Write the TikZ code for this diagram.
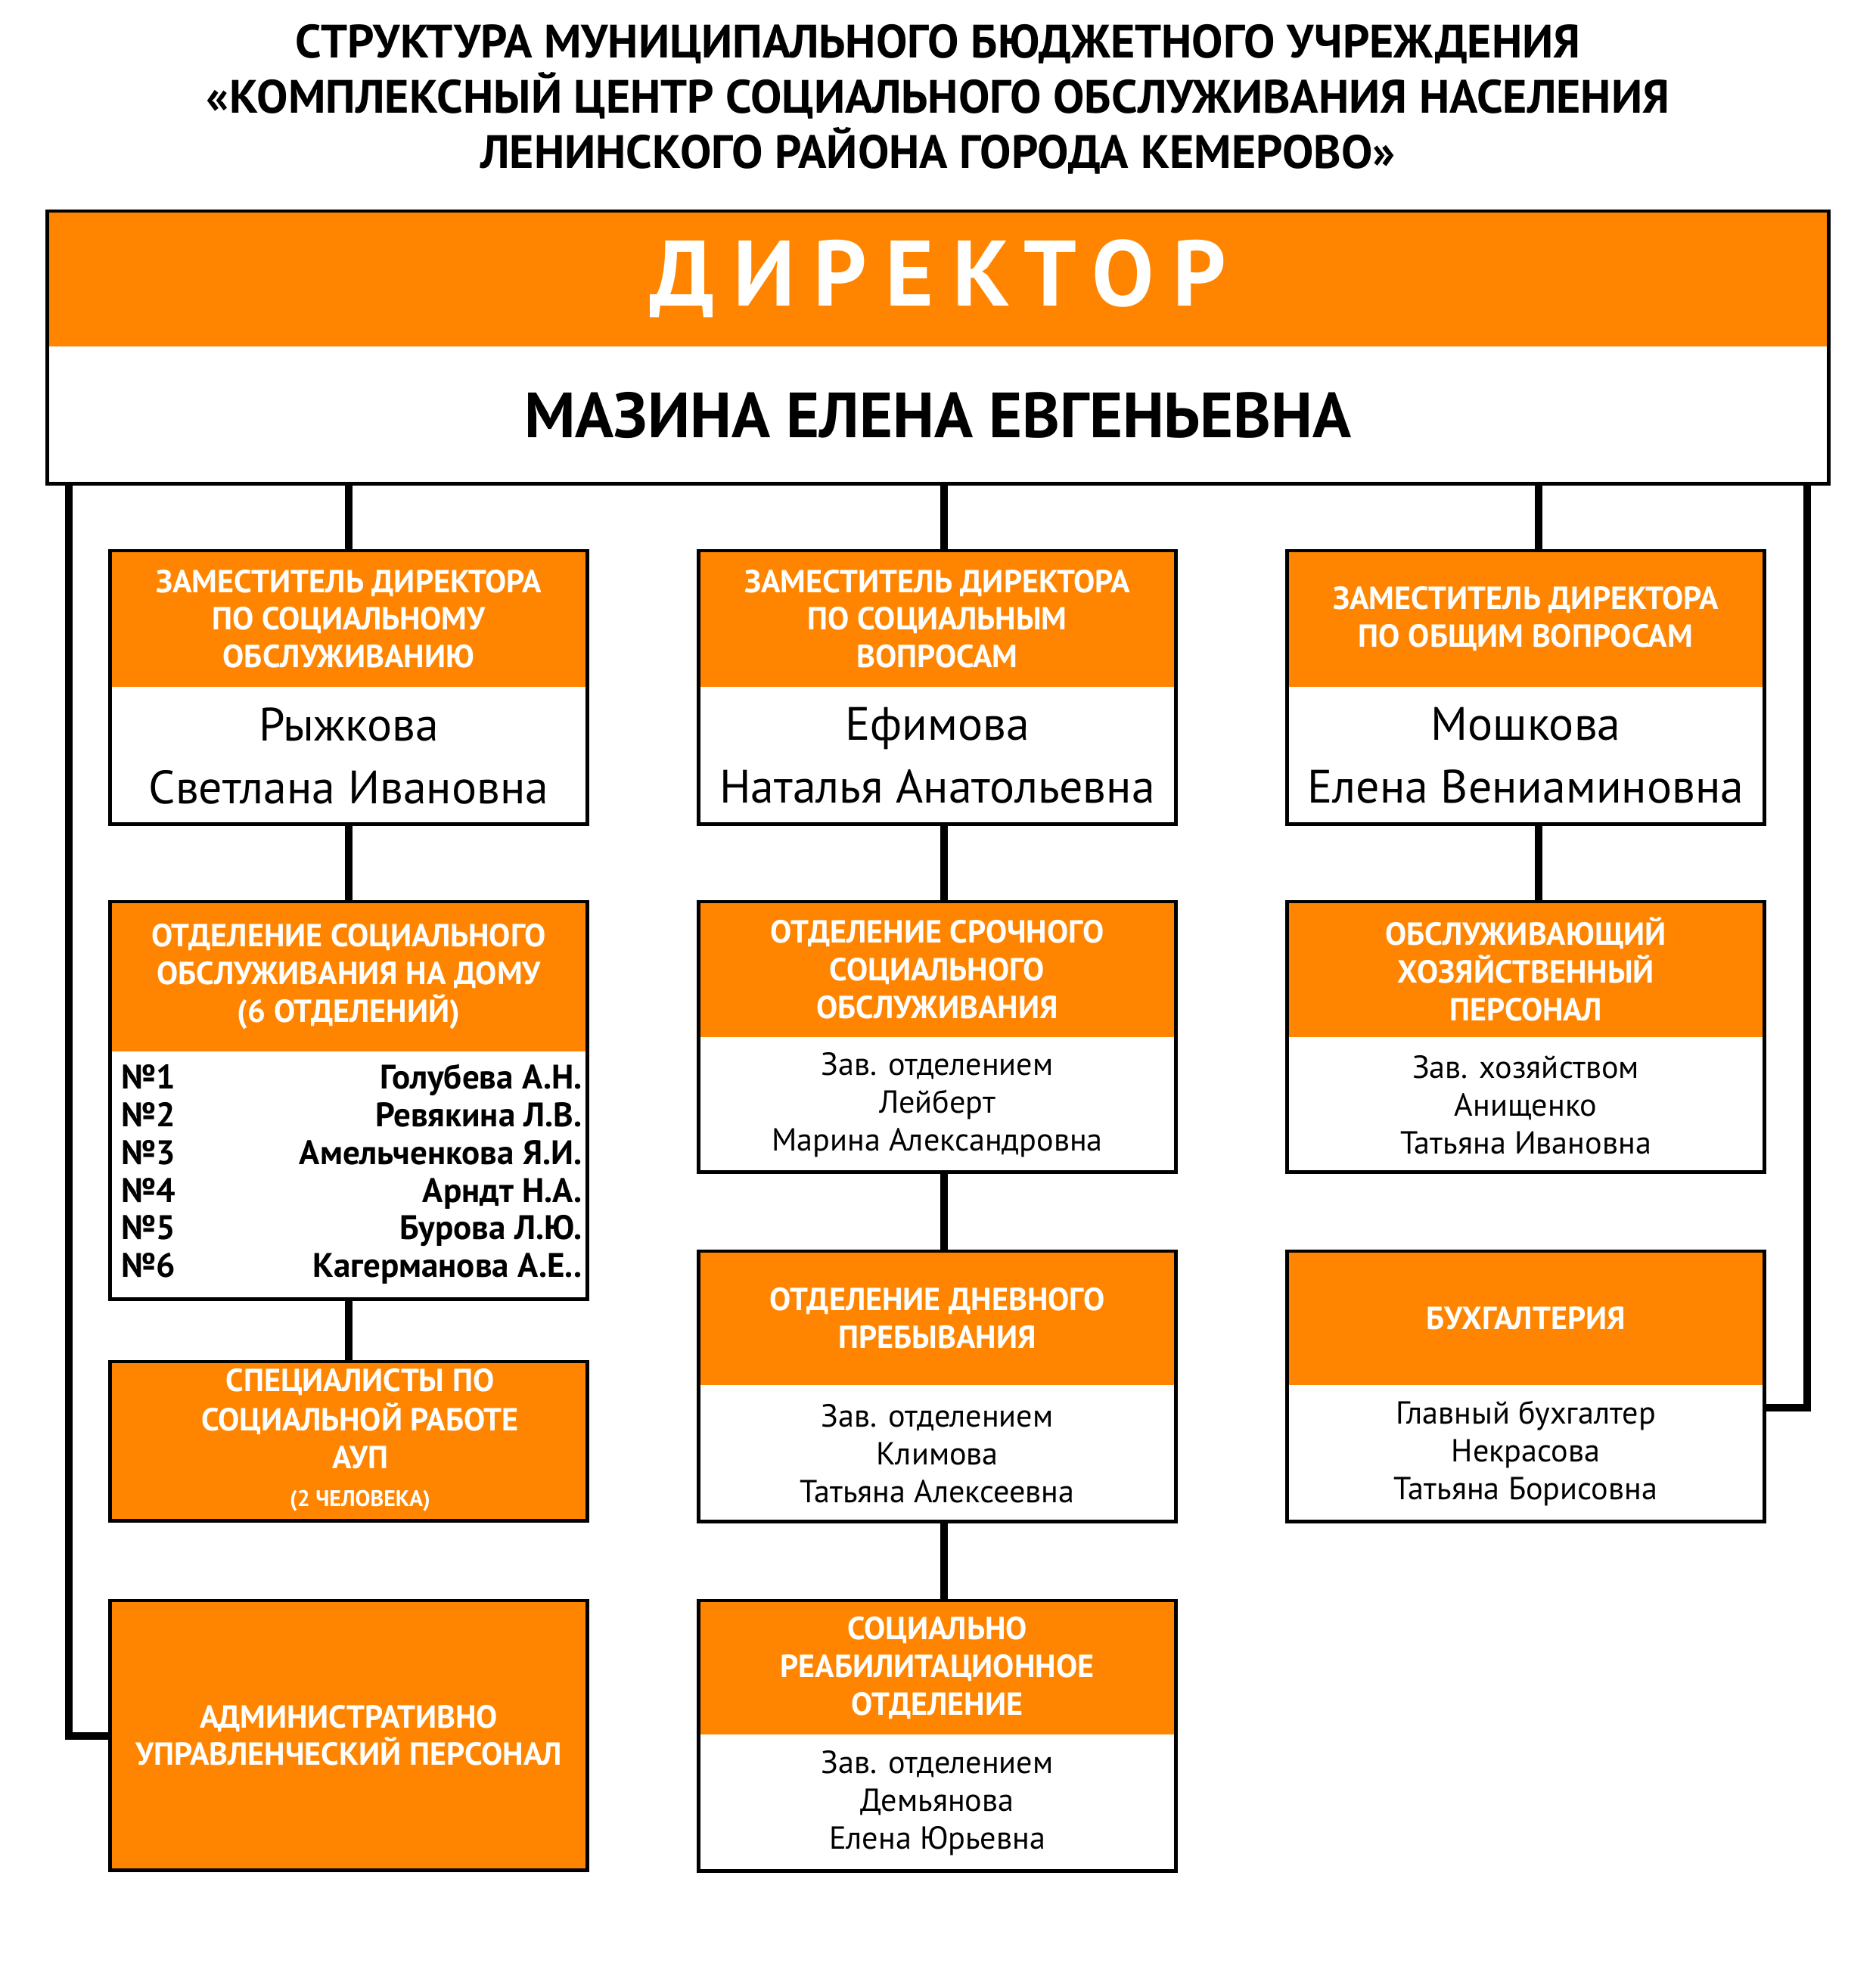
\documentclass[tikz,border=0pt]{standalone}
\usepackage{fontspec}
\setmainfont{PT Sans}
\newfontfamily\spacedfont[LetterSpace=20]{PT Sans}
\usetikzlibrary{positioning}
\definecolor{orgfill}{RGB}{255,133,0}

\begin{document}
\begin{tikzpicture}[
	head/.style = {fill=orgfill, text=white, inner sep=0pt, align=center, minimum width=6.3cm,
		font=\bfseries\fontsize{12}{14.2}\selectfont},
	body/.style = {fill=white, inner sep=0pt, align=center, minimum width=6.3cm,
		font=\fontsize{12}{14.2}\selectfont},
	namebody/.style = {body, font=\fontsize{17.6}{23.6}\selectfont},
	frame/.style = {draw=black, line width=1.4pt},
	link/.style = {draw=black, line width=2.8pt}
	]
	\useasboundingbox (0,0) rectangle (24.80,-26.07);
	% title
	\node[font=\bfseries\fontsize{17.6}{20.8}\selectfont, align=center] (title) at (12.40,-1.31)
		{СТРУКТУРА МУНИЦИПАЛЬНОГО БЮДЖЕТНОГО УЧРЕЖДЕНИЯ\\
		«КОМПЛЕКСНЫЙ ЦЕНТР СОЦИАЛЬНОГО ОБСЛУЖИВАНИЯ НАСЕЛЕНИЯ\\
		ЛЕНИНСКОГО РАЙОНА ГОРОДА КЕМЕРОВО»};
	% director
	\node[head, minimum width=23.54cm, minimum height=1.78cm, anchor=north,
		font=\spacedfont\bfseries\fontsize{35}{40}\selectfont] (dirh) at (12.40,-2.79) {ДИРЕКТОР};
	\node[body, minimum width=23.54cm, minimum height=1.80cm, below=0pt of dirh,
		font=\bfseries\fontsize{24}{30}\selectfont] (dirb) {МАЗИНА ЕЛЕНА ЕВГЕНЬЕВНА};

	% deputies
	\node[head, minimum height=1.79cm, anchor=north] (lzh) at (4.61,-7.28)
		{ЗАМЕСТИТЕЛЬ ДИРЕКТОРА\\ПО СОЦИАЛЬНОМУ\\ОБСЛУЖИВАНИЮ};
	\node[namebody, minimum height=1.80cm, below=0pt of lzh] (lzb) {Рыжкова\\Светлана Ивановна};
	\node[head, minimum height=1.79cm, anchor=north] (mzh) at (12.39,-7.28)
		{ЗАМЕСТИТЕЛЬ ДИРЕКТОРА\\ПО СОЦИАЛЬНЫМ\\ВОПРОСАМ};
	\node[namebody, minimum height=1.80cm, below=0pt of mzh] (mzb) {Ефимова\\Наталья Анатольевна};
	\node[head, minimum height=1.79cm, anchor=north] (rzh) at (20.17,-7.28)
		{ЗАМЕСТИТЕЛЬ ДИРЕКТОРА\\ПО ОБЩИМ ВОПРОСАМ};
	\node[namebody, minimum height=1.80cm, below=0pt of rzh] (rzb) {Мошкова\\Елена Вениаминовна};

	% left column
	\node[head, minimum height=1.97cm, anchor=north] (homeh) at (4.61,-11.92)
		{ОТДЕЛЕНИЕ СОЦИАЛЬНОГО\\ОБСЛУЖИВАНИЯ НА ДОМУ\\(6 ОТДЕЛЕНИЙ)};
	\node[body, minimum height=3.26cm, below=0pt of homeh, font=\bfseries\fontsize{12.8}{14.2}\selectfont] (homeb)
		{\hspace*{0.08cm}\begin{tabular*}{6.09cm}{@{}l@{\extracolsep{\fill}}r@{}}
		№1 & Голубева А.Н.\\
		№2 & Ревякина Л.В.\\
		№3 & Амельченкова Я.И.\\
		№4 & Арндт Н.А.\\
		№5 & Бурова Л.Ю.\\
		№6 & Кагерманова А.Е..
		\end{tabular*}};
	\node[head, minimum height=2.09cm, anchor=north] (spec) at (4.61,-18.00)
		{\hspace*{0.3cm}\begin{tabular}{@{}c@{}}СПЕЦИАЛИСТЫ ПО\\СОЦИАЛЬНОЙ РАБОТЕ\\АУП\\{\fontsize{8.5}{10}\selectfont (2 ЧЕЛОВЕКА)}\end{tabular}};
	\node[head, minimum height=3.55cm, anchor=north] (admin) at (4.61,-21.16)
		{АДМИНИСТРАТИВНО\\УПРАВЛЕНЧЕСКИЙ ПЕРСОНАЛ};

	% middle column
	\node[head, minimum height=1.78cm, anchor=north] (urgh) at (12.39,-11.92)
		{ОТДЕЛЕНИЕ СРОЧНОГО\\СОЦИАЛЬНОГО\\ОБСЛУЖИВАНИЯ};
	\node[body, minimum height=1.77cm, below=0pt of urgh] (urgb)
		{Зав. отделением\\Лейберт\\Марина Александровна};
	\node[head, minimum height=1.76cm, anchor=north] (dayh) at (12.39,-16.54)
		{ОТДЕЛЕНИЕ ДНЕВНОГО\\ПРЕБЫВАНИЯ};
	\node[body, minimum height=1.79cm, below=0pt of dayh] (dayb)
		{Зав. отделением\\Климова\\Татьяна Алексеевна};
	\node[head, minimum height=1.76cm, anchor=north] (rehh) at (12.39,-21.16)
		{СОЦИАЛЬНО\\РЕАБИЛИТАЦИОННОЕ\\ОТДЕЛЕНИЕ};
	\node[body, minimum height=1.79cm, below=0pt of rehh] (rehb)
		{Зав. отделением\\Демьянова\\Елена Юрьевна};

	% right column
	\node[head, minimum height=1.78cm, anchor=north] (hoh) at (20.17,-11.92)
		{ОБСЛУЖИВАЮЩИЙ\\ХОЗЯЙСТВЕННЫЙ\\ПЕРСОНАЛ};
	\node[body, minimum height=1.77cm, below=0pt of hoh] (hob)
		{Зав. хозяйством\\Анищенко\\Татьяна Ивановна};
	\node[head, minimum height=1.76cm, anchor=north] (acch) at (20.17,-16.54)
		{БУХГАЛТЕРИЯ};
	\node[body, minimum height=1.79cm, below=0pt of acch] (accb)
		{Главный бухгалтер\\Некрасова\\Татьяна Борисовна};

	% connectors
	\draw[link] (lzh.north) -- (lzh.north |- dirb.south);
	\draw[link] ([xshift=0.09cm]mzh.north) -- ([xshift=0.09cm]mzh.north |- dirb.south);
	\draw[link] ([xshift=0.17cm]rzh.north) -- ([xshift=0.17cm]rzh.north |- dirb.south);
	\draw[link] (lzb.south) -- (homeh.north);
	\draw[link] (homeb.south) -- (spec.north);
	\foreach \a/\b in {mzb/urgh,urgb/dayh,dayb/rehh}
		\draw[link] ([xshift=0.09cm]\a.south) -- ([xshift=0.09cm]\b.north);
	\draw[link] ([xshift=0.17cm]rzb.south) -- ([xshift=0.17cm]hoh.north);
	\coordinate (lturn) at (0.91,-22.95);
	\coordinate (rturn) at (23.89,-18.61);
	\draw[link] (lturn |- dirb.south) -- (lturn) -- (lturn -| admin.west);
	\draw[link] (rturn |- dirb.south) -- (rturn) -- (rturn -| accb.east);

	% frames
	\draw[frame] (dirh.north west) rectangle (dirb.south east);
	\draw[frame] (lzh.north west) rectangle (lzb.south east);
	\draw[frame] (mzh.north west) rectangle (mzb.south east);
	\draw[frame] (rzh.north west) rectangle (rzb.south east);
	\draw[frame] (homeh.north west) rectangle (homeb.south east);
	\draw[frame] (spec.north west) rectangle (spec.south east);
	\draw[frame] (admin.north west) rectangle (admin.south east);
	\draw[frame] (urgh.north west) rectangle (urgb.south east);
	\draw[frame] (dayh.north west) rectangle (dayb.south east);
	\draw[frame] (rehh.north west) rectangle (rehb.south east);
	\draw[frame] (hoh.north west) rectangle (hob.south east);
	\draw[frame] (acch.north west) rectangle (accb.south east);
\end{tikzpicture}
\end{document}
